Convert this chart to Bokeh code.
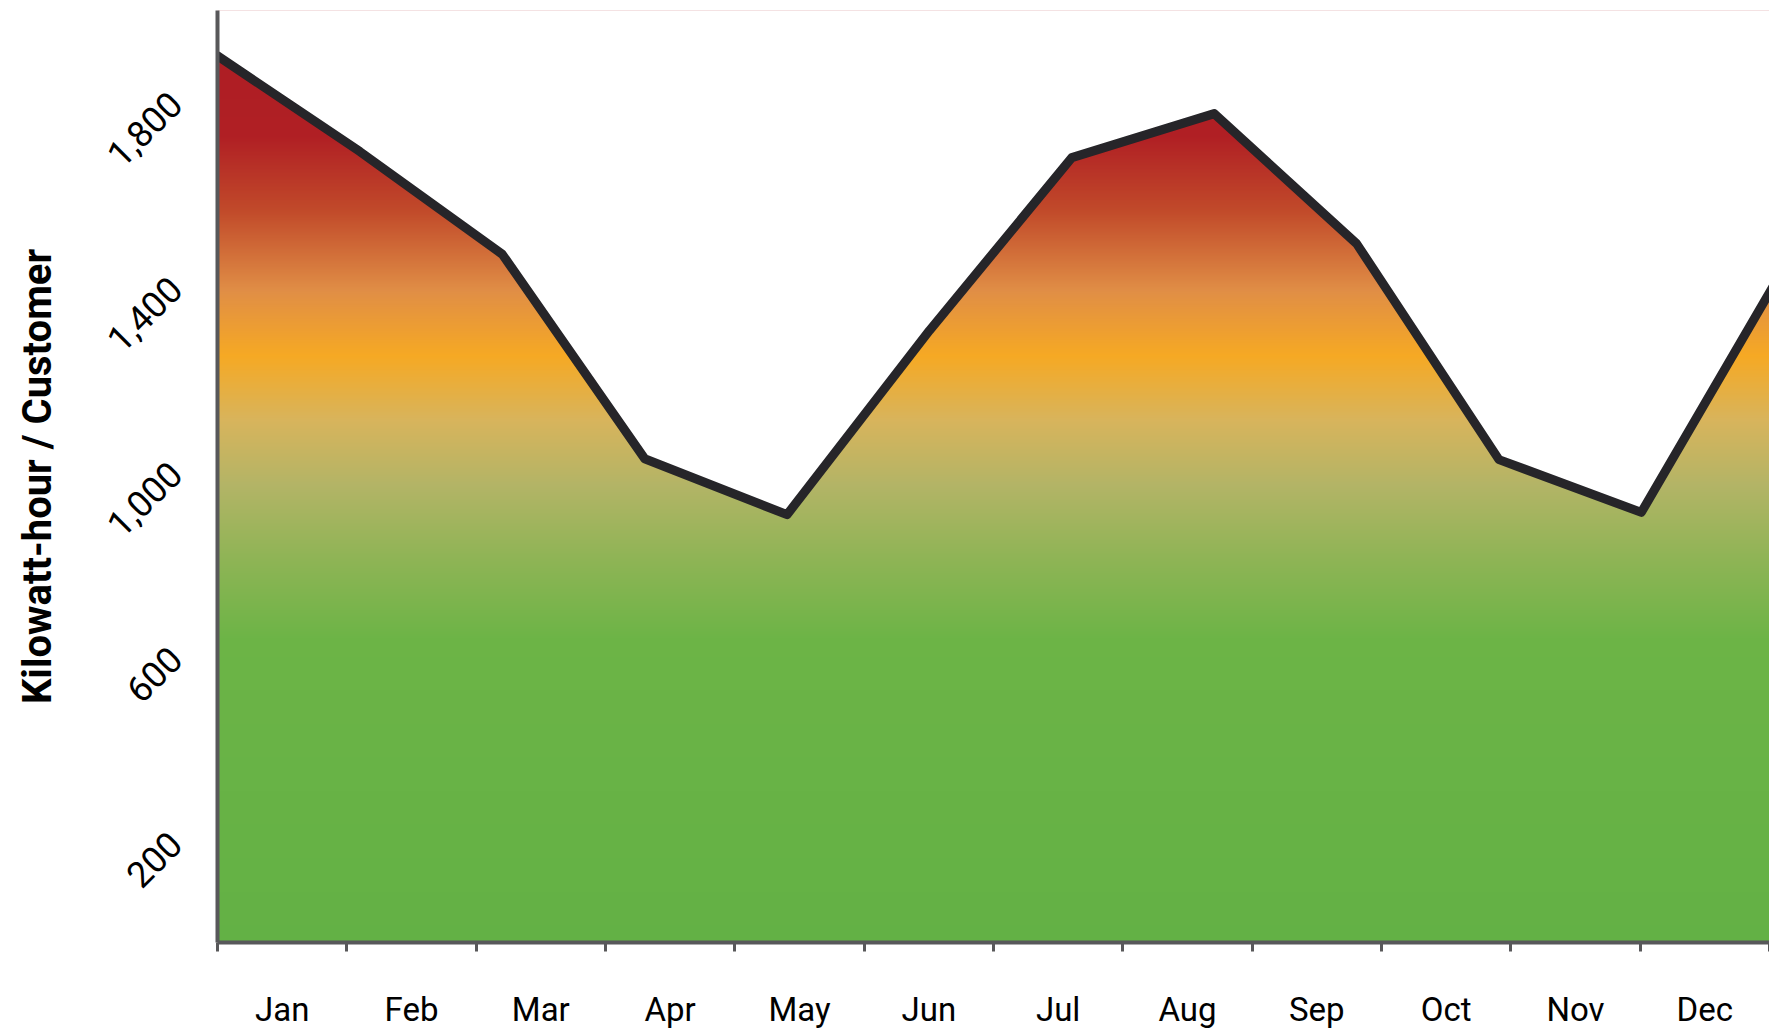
import math
import numpy as np
from bokeh.plotting import figure
from bokeh.models import Range1d, FixedTicker, NumeralTickFormatter, CustomJSTickFormatter
from bokeh.embed import file_html
from bokeh.resources import INLINE

# ---- data ----
months = ["Jan", "Feb", "Mar", "Apr", "May", "Jun", "Jul", "Aug", "Sep", "Oct", "Nov", "Dec"]
kwh = [1891, 1684, 1462, 1020, 899, 1297, 1671, 1766, 1485, 1018, 904, 1432]
y_ticks = [200, 600, 1000, 1400, 1800]

# gradient stops (value -> colour)
grad_vals = [-26, 627, 800, 962, 1103, 1243, 1384, 1557, 1719, 1881, 1989]
grad_cols = ["#63B145", "#6CB446", "#8EB455", "#B3B466", "#D8B45C", "#F6A924",
             "#E08E46", "#C14A2A", "#B01F24", "#AE1E24", "#A81C22"]

Y_MIN, Y_MAX = -26, 1989
AREA_X_END = 10.9
FONT = "Roboto"
AXIS_COL = "#58585A"

p = figure(frame_width=1552, frame_height=932,
           x_range=Range1d(0, 12), y_range=Range1d(Y_MIN, Y_MAX),
           output_backend="svg", toolbar_location=None,
           min_border_left=217, min_border_top=10, min_border_right=0, min_border_bottom=40)
p.extra_x_ranges = {"area": Range1d(0, AREA_X_END)}
p.outline_line_color = None
p.grid.visible = False
p.background_fill_color = "white"

# gradient image
N = 1200
vals = np.linspace(Y_MIN, Y_MAX, N)
def hex2rgb(h):
    return [int(h[i:i + 2], 16) for i in (1, 3, 5)]
rgb = np.array([hex2rgb(c) for c in grad_cols], dtype=float)
img = np.empty((N, 2), dtype=np.uint32)
view = img.view(dtype=np.uint8).reshape((N, 2, 4))
for ch in range(3):
    col = np.interp(vals, grad_vals, rgb[:, ch]).round().astype(np.uint8)
    view[:, :, ch] = col[:, None]
view[:, :, 3] = 255
p.image_rgba(image=[img], x=0, y=Y_MIN, dw=12, dh=Y_MAX - Y_MIN)

# white mask above the line
idx = list(range(len(months)))
top = Y_MAX + 500
mask_x = [-1] + idx + [idx[-1] + 1, idx[-1] + 1, -1]
mask_y = [kwh[0]] + kwh + [kwh[-1], top, top]
p.patch(mask_x, mask_y, x_range_name="area", fill_color="white", line_color="white", line_width=1)

# the line
p.line(idx, kwh, x_range_name="area", line_color="#262529", line_width=9,
       line_join="round", line_cap="round")

# x axis
xa = p.xaxis[0]
xa.ticker = FixedTicker(ticks=[i + 0.5 for i in idx], minor_ticks=list(range(13)))
xa.formatter = CustomJSTickFormatter(args=dict(months=months), code="return months[Math.floor(tick)];")
xa.axis_line_color = AXIS_COL
xa.axis_line_width = 4
xa.major_tick_line_color = None
xa.major_tick_out = 0
xa.major_tick_in = 0
xa.minor_tick_line_color = AXIS_COL
xa.minor_tick_line_width = 3
xa.minor_tick_out = 9
xa.minor_tick_in = 0
xa.major_label_text_font = FONT
xa.major_label_text_font_size = "33px"
xa.major_label_text_color = "black"
xa.major_label_standoff = 38

# y axis
ya = p.yaxis[0]
ya.ticker = FixedTicker(ticks=y_ticks)
ya.formatter = NumeralTickFormatter(format="0,0")
ya.axis_line_color = AXIS_COL
ya.axis_line_width = 4
ya.major_tick_line_color = None
ya.minor_tick_line_color = None
ya.major_label_orientation = math.pi / 4
ya.major_label_text_font = FONT
ya.major_label_text_font_size = "36px"
ya.major_label_text_color = "black"
ya.major_label_standoff = 36
ya.axis_label = "Kilowatt-hour / Customer"
ya.axis_label_text_font = FONT
ya.axis_label_text_font_style = "bold"
ya.axis_label_text_font_size = "40px"
ya.axis_label_text_color = "black"
ya.axis_label_standoff = 31

open("out.html", "w").write(file_html(p, INLINE))
